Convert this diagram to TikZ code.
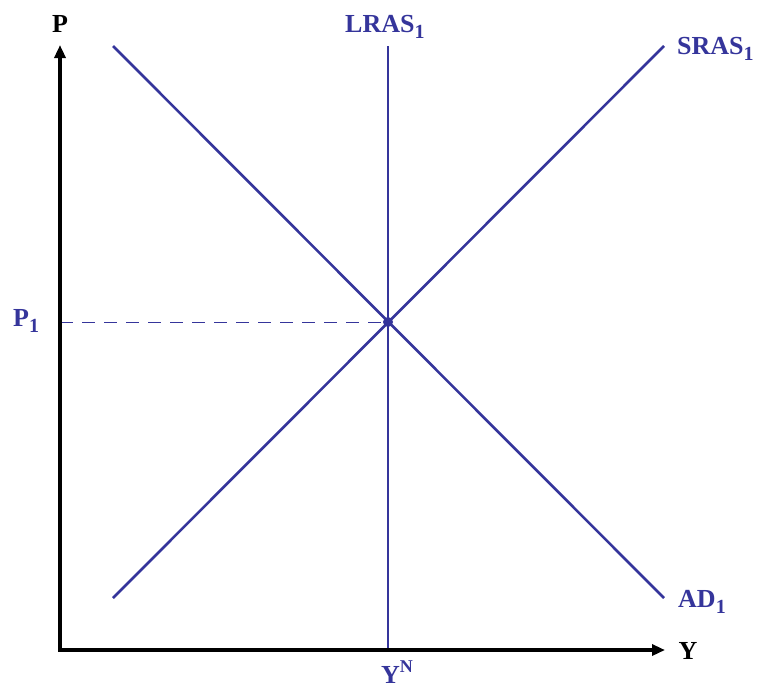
\documentclass[tikz,border=0pt]{standalone}
\usepackage{fontspec}
\setmainfont{Liberation Serif}
\usetikzlibrary{arrows.meta}
\definecolor{curve}{HTML}{35359B}
\newcommand{\labsub}[1]{\raisebox{-0.25em}{\fontsize{20}{22}\selectfont #1}}
\newcommand{\labsup}[1]{\raisebox{0.4em}{\fontsize{18}{20}\selectfont #1}}
\begin{document}
\begin{tikzpicture}[x=1pt,y=-1pt,
  curveline/.style={draw=curve,line width=2.6pt},
  axisline/.style={draw=black,line width=3.8pt,-{Triangle[length=13pt,width=11pt]}},
  lab/.style={font=\fontsize{26}{30}\selectfont\bfseries,inner sep=0pt,anchor=base},
  curvelab/.style={lab,text=curve}]
\useasboundingbox (0,0) rectangle (762,689);
% coordinates
\coordinate (O) at (60,650);
\coordinate (ytop) at (60,45);
\coordinate (xend) at (665,650);
\coordinate (adA) at (113,46);
\coordinate (adB) at (664,598);
\coordinate (srA) at (113,598);
\coordinate (srB) at (664,46);
\coordinate (lrA) at (388,46);
\coordinate (lrB) at (388,650);
\coordinate (pax) at (60,322);
% dashed guide
\node[circle,fill=curve,inner sep=0pt,minimum size=10pt] (E) at (388,322) {};
\draw[curve,line width=1pt,dash pattern=on 13pt off 9pt] (pax) -- (E.center);
% curves
\draw[curveline] (adA) -- (adB);
\draw[curveline] (srA) -- (srB);
\draw[curveline] (lrA) -- (lrB);
% axes
\draw[axisline] ([yshift=1.9pt]O) -- (ytop);
\draw[axisline] ([xshift=-1.9pt]O) -- (xend);
% labels
\node[lab] (P) at (60,32) {P};
\node[lab] (Y) at (688,659) {Y};
\node[curvelab,anchor=base west] (LRAS) at (345,32) {LRAS\labsub{1}};
\node[curvelab,anchor=base west] (SRAS) at (677,54) {SRAS\labsub{1}};
\node[curvelab,anchor=base west] (AD) at (678,607) {AD\labsub{1}};
\node[curvelab,anchor=base west] (P1) at (13,326) {P\labsub{1}};
\node[curvelab,anchor=base west] (YN) at (381,683) {Y\labsup{N}};
\end{tikzpicture}
\end{document}
